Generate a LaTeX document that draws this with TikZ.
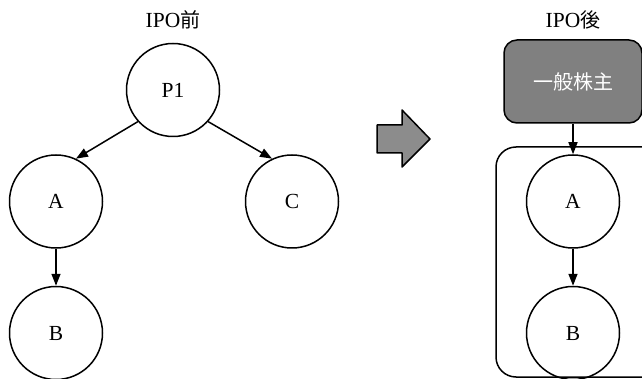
\documentclass[tikz,border=0pt]{standalone}
\usepackage{fontspec}
\setmainfont{Liberation Serif}
\newfontfamily\jp[Scale=0.93]{Noto Sans CJK JP}
\usetikzlibrary{arrows.meta}

\definecolor{boxgray}{RGB}{128,128,128}
\definecolor{arrowgray}{RGB}{140,140,140}

\begin{document}
\begin{tikzpicture}[x=1pt,y=-1pt,>={Triangle[length=12pt,width=9pt]},line join=round,line width=1.5pt,font=\fontsize{21.5}{25}\selectfont,
	entity/.style={circle,draw,minimum size=93pt,inner sep=0pt},
	holder/.style={draw,fill=boxgray,rounded corners=13pt,minimum width=138pt,minimum height=83pt,text=white,inner sep=0pt}]
	\clip (0,0) rectangle (642,379);
	\node (before) at (173,20) {IPO{\jp 前}};
	\node (after) at (573,20) {IPO{\jp 後}};
	\node[entity] (P1) at (173,90) {P1};
	\node[entity] (A) at (56,201.5) {A};
	\node[entity] (C) at (292,201.5) {C};
	\node[entity] (B) at (56,333) {B};
	\draw[->] (P1.222) -- (A.65);
	\draw[->] (P1.318) -- (C.115);
	\draw[->] (A) -- (B);
	\draw[fill=arrowgray] (377,125) -- (402,125) -- (402,110) -- (430,139) -- (402,167) -- (402,153) -- (377,153) -- cycle;
	\draw[rounded corners=20pt] (496,147) rectangle (665,377);
	\node[holder] (public) at (573,81.5) {\jp 一般株主};
	\node[entity] (A2) at (573,201.5) {A};
	\node[entity] (B2) at (573,333) {B};
	\draw[->] (public) -- (A2);
	\draw[->] (A2) -- (B2);
\end{tikzpicture}
\end{document}
